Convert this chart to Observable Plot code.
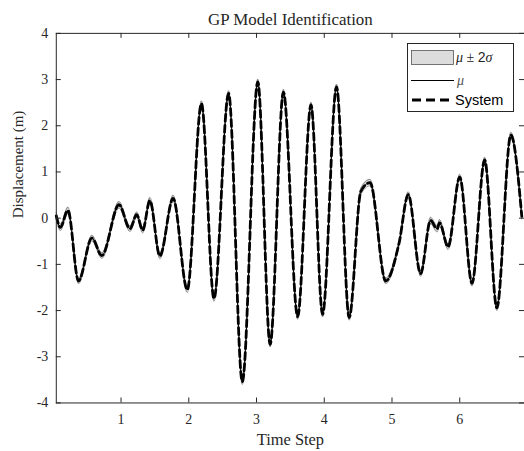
<!DOCTYPE html>
<html>
<head>
<meta charset="utf-8">
<script src="https://cdn.jsdelivr.net/npm/d3@7"></script>
<script src="https://cdn.jsdelivr.net/npm/@observablehq/plot@0.6"></script>
<style>
  html, body { margin: 0; padding: 0; background: #fff; overflow: hidden; }
  #wrap { position: relative; width: 524px; height: 451px; overflow: hidden; }
  #legend { position: absolute; left: 0; top: 0; pointer-events: none; }
</style>
</head>
<body>
<div id="wrap"></div>
<script>
// ---- data ----
const title = "GP Model Identification";
const xLabel = "Time Step";
const yLabel = "Displacement (m)";
const xTicks = [1, 2, 3, 4, 5, 6];
const yTicks = [-4, -3, -2, -1, 0, 1, 2, 3, 4];

const time = [0.044, 0.103, 0.216, 0.372, 0.569, 0.716, 0.970, 1.132, 1.231, 1.319,
  1.426, 1.573, 1.769, 1.978, 2.187, 2.372, 2.588, 2.790, 3.019, 3.201,
  3.397, 3.607, 3.804, 3.975, 4.181, 4.368, 4.540, 4.676, 4.907, 5.103,
  5.240, 5.422, 5.569, 5.666, 5.701, 5.828, 6.000, 6.181, 6.368, 6.548,
  6.754, 6.916];
const mu = [0.05, -0.20, 0.17, -1.36, -0.43, -0.81, 0.29, -0.23, 0.075, -0.26,
  0.38, -0.82, 0.43, -1.55, 2.48, -1.74, 2.70, -3.54, 2.95, -2.73,
  2.73, -2.13, 2.45, -2.08, 2.84, -2.15, 0.58, 0.77, -1.36, -0.55,
  0.51, -1.20, -0.05, -0.23, -0.10, -0.62, 0.89, -1.41, 1.26, -1.94,
  1.80, 0.04];
const system = [0.05, -0.20, 0.17, -1.36, -0.43, -0.81, 0.29, -0.23, 0.075, -0.26,
  0.38, -0.82, 0.43, -1.55, 2.48, -1.74, 2.70, -3.54, 2.95, -2.73,
  2.73, -2.13, 2.45, -2.08, 2.84, -2.15, 0.58, 0.77, -1.36, -0.55,
  0.51, -1.20, -0.05, -0.23, -0.10, -0.62, 0.89, -1.41, 1.26, -1.94,
  1.80, 0.04];
const twoSigma = [0.07, 0.07, 0.07, 0.06, 0.06, 0.06, 0.07, 0.06, 0.06, 0.06,
  0.07, 0.06, 0.07, 0.06, 0.06, 0.06, 0.06, 0.06, 0.06, 0.06,
  0.06, 0.06, 0.06, 0.06, 0.06, 0.06, 0.07, 0.07, 0.06, 0.06,
  0.06, 0.06, 0.07, 0.07, 0.07, 0.06, 0.06, 0.06, 0.06, 0.06,
  0.06, 0.06];

const rows = time.map((t, i) => ({
  t, mu: mu[i], sys: system[i], lo: mu[i] - twoSigma[i], hi: mu[i] + twoSigma[i]
}));

const curve = "monotone-x";
const axisColor = "#262626";
const plotH = 451 - 33 - 47;
const plotW = 526 - 56;

const chart = Plot.plot({
  width: 526,
  height: 451,
  marginTop: 33,
  marginBottom: 47,
  marginLeft: 56,
  marginRight: 0,
  x: { domain: [0.044, 6.956], axis: null },
  y: { domain: [-4, 4], axis: null },
  style: { fontFamily: "'Liberation Serif', serif", fontSize: "14px", color: axisColor, background: "white" },
  marks: [
    Plot.areaY(rows, { x: "t", y1: "lo", y2: "hi", fill: "#d6d6d6", curve }),
    Plot.line(rows, { x: "t", y: "lo", stroke: "#555", strokeWidth: 0.6, curve }),
    Plot.line(rows, { x: "t", y: "hi", stroke: "#555", strokeWidth: 0.6, curve }),
    Plot.line(rows, { x: "t", y: "mu", stroke: "black", strokeWidth: 1, curve }),
    Plot.line(rows, { x: "t", y: "sys", stroke: "black", strokeWidth: 2.8, strokeDasharray: "7,4", curve }),
    // inward box ticks
    Plot.tickX(xTicks, { x: d => d, stroke: axisColor, insetTop: plotH - 5 }),
    Plot.tickX(xTicks, { x: d => d, stroke: axisColor, insetBottom: plotH - 5 }),
    Plot.tickY(yTicks, { y: d => d, stroke: axisColor, insetRight: plotW - 5 }),
    Plot.tickY(yTicks, { y: d => d, stroke: axisColor, insetLeft: plotW - 5 }),
    Plot.frame({ stroke: axisColor, strokeWidth: 1 }),
    Plot.axisX(xTicks, { tickSize: 0, tickPadding: 11, label: null, fontSize: 14 }),
    Plot.axisY(yTicks, { tickSize: 0, tickPadding: 8, label: null, fontSize: 14, tickFormat: d => String(d) }),
    Plot.text([title], { frameAnchor: "top", lineAnchor: "middle", dy: -14, fontSize: 17, fill: axisColor }),
    Plot.text([xLabel], { frameAnchor: "bottom", lineAnchor: "middle", dy: 37, fontSize: 16.5, fill: axisColor }),
    Plot.text([yLabel], { frameAnchor: "left", lineAnchor: "middle", dx: -38, rotate: -90, fontSize: 15, fill: axisColor })
  ]
});
document.getElementById("wrap").appendChild(chart);

// legend overlay
const lg = d3.select("#wrap").append("svg").attr("id", "legend")
  .attr("width", 524).attr("height", 451);
lg.append("rect").attr("x", 407.5).attr("y", 43.5).attr("width", 106).attr("height", 68)
  .attr("fill", "white").attr("stroke", axisColor).attr("stroke-width", 1);
lg.append("rect").attr("x", 411.5).attr("y", 50.5).attr("width", 42).attr("height", 14)
  .attr("fill", "#dcdcdc").attr("stroke", "#555").attr("stroke-width", 0.8);
const t1 = lg.append("text").attr("x", 456).attr("y", 62).attr("font-size", 14)
  .attr("fill", axisColor).attr("font-family", "'Liberation Serif', serif");
t1.append("tspan").attr("font-style", "italic").text("μ");
t1.append("tspan").text(" ± ");
t1.append("tspan").attr("font-family", "'Liberation Sans', sans-serif").text("2");
t1.append("tspan").attr("font-style", "italic").text("σ");
lg.append("line").attr("x1", 411).attr("x2", 454).attr("y1", 80.5).attr("y2", 80.5)
  .attr("stroke", "black").attr("stroke-width", 1);
lg.append("text").attr("x", 457).attr("y", 85).attr("font-size", 14).attr("font-style", "italic")
  .attr("fill", "#555").attr("font-family", "'Liberation Serif', serif").text("μ");
lg.append("line").attr("x1", 412).attr("x2", 454).attr("y1", 100).attr("y2", 100)
  .attr("stroke", "black").attr("stroke-width", 3).attr("stroke-dasharray", "9,5");
lg.append("text").attr("x", 455).attr("y", 105).attr("font-size", 14.5)
  .attr("fill", "black").attr("font-family", "'Liberation Sans', sans-serif").text("System");
</script>
</body>
</html>
